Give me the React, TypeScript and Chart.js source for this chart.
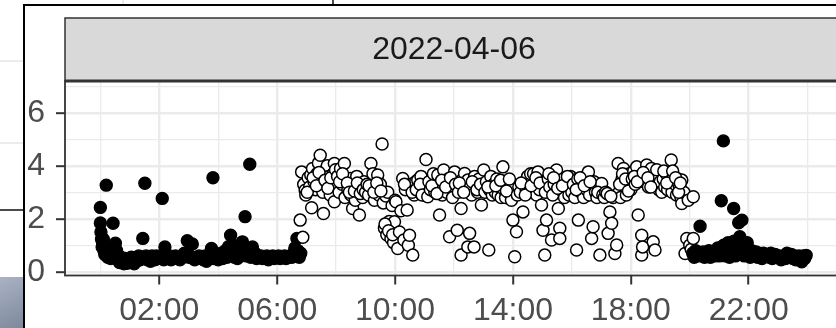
import React, { useEffect, useRef } from "react";
import { Chart, registerables } from "chart.js";

Chart.register(...registerables);

const facetLabel = "2022-04-06";
const xTickHours = [2, 6, 10, 14, 18, 22];
const xTickLabels = ["02:00", "06:00", "10:00", "14:00", "18:00", "22:00"];
const yTickValues = [0, 2, 4, 6];

// [hour of day, value]
const nightEarlyPoints: [number, number][] = [
  [0.0, 2.43], [0.0, 1.84], [0.02, 1.5], [0.04, 1.23], [0.06, 0.94], [0.08, 1.1], [0.1, 1.23], [0.12, 0.8],
  [0.15, 0.65], [0.2, 3.27], [0.2, 0.9], [0.25, 0.55], [0.3, 0.7], [0.35, 0.5], [0.43, 1.83], [0.45, 0.6],
  [0.51, 1.08], [0.55, 0.8], [0.6, 0.45], [0.65, 0.35], [0.7, 0.55], [0.75, 0.4], [0.8, 0.3], [0.85, 0.5],
  [0.9, 0.32], [0.95, 0.45], [1.0, 0.35], [1.05, 0.55], [1.1, 0.4], [1.15, 0.3], [1.2, 0.5], [1.25, 0.42],
  [1.3, 0.6], [1.35, 0.45], [1.4, 0.55], [1.44, 1.26], [1.5, 0.5], [1.51, 3.34], [1.55, 0.6], [1.6, 0.45],
  [1.65, 0.55], [1.7, 0.4], [1.75, 0.6], [1.8, 0.5], [1.85, 0.45], [1.9, 0.6], [1.95, 0.5], [2.0, 0.55],
  [2.1, 2.77], [2.1, 0.6], [2.15, 0.45], [2.19, 0.94], [2.25, 0.55], [2.3, 0.5], [2.35, 0.6], [2.4, 0.45],
  [2.5, 0.55], [2.55, 0.6], [2.6, 0.5], [2.7, 0.45], [2.75, 0.6], [2.8, 0.55], [2.85, 0.7], [2.95, 1.17],
  [3.0, 0.55], [3.05, 0.6], [3.12, 1.05], [3.15, 0.5], [3.2, 0.45], [3.3, 0.55], [3.35, 0.6], [3.4, 0.5],
  [3.5, 0.45], [3.55, 0.6], [3.6, 0.4], [3.7, 0.55], [3.77, 0.88], [3.82, 3.55], [3.85, 0.5], [3.9, 0.6],
  [4.0, 0.45], [4.05, 0.55], [4.1, 0.7], [4.15, 0.5], [4.2, 0.6], [4.25, 0.8], [4.3, 0.55], [4.35, 0.95],
  [4.42, 1.38], [4.45, 0.6], [4.5, 1.0], [4.55, 0.55], [4.6, 0.7], [4.65, 0.5], [4.7, 0.9], [4.75, 0.6],
  [4.82, 1.13], [4.85, 0.75], [4.91, 2.08], [4.95, 0.6], [5.0, 0.9], [5.07, 4.06], [5.1, 0.55], [5.16, 0.94],
  [5.2, 0.6], [5.25, 0.7], [5.3, 0.5], [5.4, 0.55], [5.45, 0.6], [5.5, 0.5], [5.6, 0.55], [5.65, 0.6],
  [5.7, 0.45], [5.8, 0.55], [5.85, 0.6], [5.9, 0.5], [6.0, 0.55], [6.05, 0.6], [6.1, 0.5], [6.2, 0.55],
  [6.25, 0.6], [6.3, 0.5], [6.4, 0.55], [6.45, 0.6], [6.5, 0.55], [6.55, 0.7], [6.6, 0.9], [6.65, 0.6],
  [6.67, 1.26], [6.7, 0.8], [6.75, 0.55], [6.8, 0.7],
];

const dayPoints: [number, number][] = [
  [6.78, 1.95], [6.87, 1.3], [6.83, 3.77], [6.9, 3.3], [6.95, 3.08], [6.97, 2.9],
  [7.05, 3.55], [7.1, 3.2], [7.14, 3.65], [7.17, 2.42], [7.2, 3.9], [7.25, 3.4], [7.3, 3.1], [7.35, 3.7],
  [7.4, 4.1], [7.46, 4.4], [7.5, 3.5], [7.55, 3.0], [7.57, 2.2], [7.6, 3.8], [7.65, 3.3], [7.7, 4.0],
  [7.75, 3.6], [7.8, 2.9], [7.85, 3.4], [7.9, 3.7], [7.94, 4.09], [7.94, 2.64], [8.0, 3.2],
  [7.02, 3.0], [7.22, 3.55], [7.33, 3.25], [7.42, 3.75], [7.62, 3.45], [7.72, 3.15], [7.82, 3.55], [7.98, 3.85],
  [8.05, 3.6], [8.1, 3.0], [8.15, 3.9], [8.2, 3.3], [8.28, 4.09], [8.3, 2.8], [8.35, 3.5], [8.4, 3.1],
  [8.48, 3.52], [8.5, 2.9], [8.56, 2.39], [8.6, 3.3], [8.65, 2.7], [8.7, 3.6], [8.75, 3.0], [8.79, 2.14],
  [8.85, 3.2], [8.9, 2.8], [8.95, 3.4],
  [8.12, 3.4], [8.22, 3.7], [8.38, 3.35], [8.45, 3.0], [8.62, 3.05], [8.72, 3.35], [8.82, 2.95], [8.92, 3.1],
  [9.0, 3.0], [9.05, 3.3], [9.1, 2.9], [9.18, 4.09], [9.2, 3.2], [9.25, 3.7], [9.3, 2.7], [9.35, 3.1],
  [9.41, 3.65], [9.45, 2.9], [9.5, 3.3], [9.56, 4.82], [9.6, 2.6], [9.64, 1.64], [9.69, 2.86], [9.72, 1.4],
  [9.75, 3.0], [9.8, 1.9], [9.86, 1.26], [9.9, 2.5], [9.95, 1.1], [9.98, 1.89], [10.0, 2.7],
  [9.12, 3.25], [9.28, 3.0], [9.38, 3.35], [9.52, 3.05], [9.66, 1.8], [9.78, 1.55], [9.92, 1.4],
  [10.03, 2.64], [10.09, 0.88], [10.15, 1.5], [10.2, 2.3], [10.26, 3.52], [10.3, 1.2], [10.35, 3.1],
  [10.41, 2.33], [10.45, 1.0], [10.49, 1.38], [10.55, 3.3], [10.6, 0.63], [10.65, 2.9], [10.7, 3.4],
  [10.77, 3.46], [10.82, 3.0], [10.88, 3.6], [10.95, 3.2], [11.0, 2.9],
  [10.32, 3.3], [10.58, 3.0], [10.72, 3.1], [10.85, 3.3], [10.92, 2.9],
  [11.05, 4.24], [11.11, 2.83], [11.15, 3.4], [11.2, 3.1], [11.3, 3.7], [11.35, 3.0], [11.4, 3.3],
  [11.45, 3.65], [11.51, 2.14], [11.55, 3.2], [11.6, 2.9], [11.65, 3.84], [11.7, 3.4], [11.75, 3.0],
  [11.8, 3.5], [11.85, 1.32], [11.9, 3.2], [11.95, 2.8], [12.02, 3.77],
  [11.25, 3.25], [11.42, 2.95], [11.58, 3.45], [11.72, 3.2], [11.88, 3.55],
  [12.05, 3.3], [12.11, 1.57], [12.15, 3.0], [12.24, 0.63], [12.24, 2.39], [12.3, 3.5], [12.36, 3.71],
  [12.4, 3.1], [12.47, 0.94], [12.47, 3.46], [12.53, 1.45], [12.55, 3.2], [12.6, 2.9], [12.68, 0.94],
  [12.7, 3.6], [12.75, 3.3], [12.8, 3.0], [12.85, 3.5], [12.93, 2.52], [12.95, 3.2], [13.01, 3.84],
  [12.18, 3.35], [12.33, 3.0], [12.62, 3.4], [12.78, 3.1], [12.9, 3.3],
  [13.05, 3.0], [13.1, 3.4], [13.18, 0.82], [13.2, 3.1], [13.25, 3.6], [13.3, 2.9], [13.35, 3.3],
  [13.4, 3.0], [13.45, 3.5], [13.5, 2.9], [13.55, 3.2], [13.6, 2.8], [13.66, 3.96], [13.7, 3.1],
  [13.75, 2.8], [13.8, 3.3], [13.85, 3.0], [13.92, 3.21], [13.95, 2.7], [14.0, 1.95],
  [13.15, 3.2], [13.42, 3.25], [13.58, 3.45], [13.78, 3.05], [13.88, 3.5],
  [14.06, 0.57], [14.12, 1.51], [14.15, 2.9], [14.2, 3.2], [14.25, 3.0], [14.34, 2.26], [14.4, 3.4],
  [14.45, 3.1], [14.5, 3.6], [14.55, 3.3], [14.6, 3.7], [14.65, 3.0], [14.7, 3.7], [14.75, 3.3],
  [14.8, 2.9], [14.85, 3.77], [14.9, 3.1], [14.97, 2.52], [15.02, 1.57], [15.05, 3.4],
  [14.28, 3.35], [14.42, 2.9], [14.62, 3.25], [14.78, 3.55], [14.92, 3.35],
  [15.08, 0.63], [15.1, 3.0], [15.14, 1.95], [15.2, 3.5], [15.25, 3.2], [15.31, 1.2], [15.35, 2.9],
  [15.4, 3.3], [15.48, 3.84], [15.54, 2.39], [15.59, 1.64], [15.59, 1.26], [15.62, 3.1], [15.7, 3.5],
  [15.75, 2.8], [15.8, 3.2], [15.88, 3.33], [15.9, 2.9], [15.95, 3.6], [16.0, 3.0],
  [15.22, 3.7], [15.38, 3.55], [15.52, 3.15], [15.68, 3.25], [15.85, 3.6],
  [16.05, 3.3], [16.1, 2.8], [16.16, 0.82], [16.2, 3.5], [16.22, 1.95], [16.3, 3.0], [16.35, 3.3],
  [16.4, 2.8], [16.45, 3.6], [16.5, 3.1], [16.56, 3.77], [16.6, 2.9], [16.67, 1.26], [16.72, 1.7],
  [16.75, 3.4], [16.8, 3.0], [16.85, 2.8], [16.9, 3.2], [16.95, 0.63], [17.01, 3.33],
  [16.15, 3.1], [16.28, 3.55], [16.42, 3.25], [16.62, 3.4], [16.88, 3.0],
  [17.05, 2.9], [17.1, 2.8], [17.15, 3.0], [17.23, 1.45], [17.29, 2.26], [17.35, 1.83], [17.4, 2.8],
  [17.46, 0.69], [17.52, 1.01], [17.57, 4.09], [17.6, 3.0], [17.65, 2.8], [17.7, 3.5], [17.75, 3.9],
  [17.8, 3.2], [17.85, 2.9], [17.9, 3.33], [17.95, 3.7], [18.0, 3.1],
  [17.2, 2.95], [17.32, 2.85], [17.62, 3.3], [17.72, 3.7], [17.82, 3.5], [17.92, 3.05],
  [18.05, 3.5], [18.1, 3.8], [18.15, 3.3], [18.2, 3.96], [18.25, 2.14], [18.3, 3.6], [18.37, 1.38],
  [18.37, 0.63], [18.4, 0.94], [18.45, 3.4], [18.5, 3.7], [18.54, 4.03], [18.6, 3.2], [18.65, 3.5],
  [18.7, 3.9], [18.76, 1.13], [18.82, 0.82], [18.85, 3.3], [18.9, 3.6], [18.95, 3.1], [19.0, 3.4],
  [18.12, 3.6], [18.22, 3.4], [18.42, 3.75], [18.58, 3.55], [18.68, 3.2], [18.88, 3.85],
  [19.05, 3.0], [19.1, 3.5], [19.15, 3.2], [19.2, 3.7], [19.25, 3.1], [19.3, 3.4], [19.37, 4.22],
  [19.4, 3.0], [19.45, 3.6], [19.5, 3.3], [19.55, 2.9], [19.6, 3.5], [19.65, 3.2], [19.7, 2.8],
  [19.73, 3.46], [19.73, 2.58], [19.8, 3.0], [19.84, 0.69], [19.9, 1.26], [19.95, 2.7], [20.0, 1.0],
  [19.12, 3.8], [19.22, 3.35], [19.42, 3.8], [19.52, 3.55], [19.62, 3.0], [19.68, 3.35],
  [20.05, 0.85], [20.12, 2.83], [20.12, 1.26],
];

const nightLatePoints: [number, number][] = [
  [20.1, 0.7], [20.15, 0.55], [20.2, 0.8], [20.25, 0.6], [20.3, 0.65], [20.35, 1.72], [20.4, 0.6],
  [20.45, 0.75], [20.5, 0.55], [20.55, 0.7], [20.6, 0.6], [20.65, 0.8], [20.7, 0.55], [20.75, 0.65],
  [20.8, 0.75], [20.85, 0.6], [20.9, 0.7], [20.95, 0.9], [21.0, 0.6], [21.05, 0.75], [21.07, 2.68],
  [21.1, 0.65], [21.14, 4.94], [21.15, 1.0], [21.2, 0.6], [21.25, 0.8], [21.3, 1.1], [21.32, 0.7],
  [21.35, 0.55], [21.4, 0.9], [21.45, 0.7], [21.49, 2.39], [21.5, 1.15], [21.55, 0.6], [21.6, 0.85],
  [21.66, 1.85], [21.7, 1.32], [21.71, 0.7], [21.77, 1.95], [21.8, 1.0], [21.85, 0.6], [21.9, 0.8],
  [21.95, 1.1], [22.0, 0.7], [22.05, 0.55], [22.1, 0.8], [22.15, 0.65], [22.2, 0.6], [22.25, 0.75],
  [22.3, 0.55], [22.35, 0.7], [22.4, 0.6], [22.45, 0.5], [22.5, 0.7], [22.55, 0.6], [22.6, 0.65],
  [22.7, 0.55], [22.75, 0.7], [22.8, 0.5], [22.85, 0.6], [22.9, 0.65], [23.0, 0.55], [23.05, 0.6],
  [23.1, 0.45], [23.2, 0.6], [23.25, 0.5], [23.3, 0.7], [23.4, 0.55], [23.45, 0.65], [23.5, 0.5],
  [23.55, 0.6], [23.6, 0.45], [23.7, 0.6], [23.75, 0.55], [23.8, 0.38], [23.85, 0.6], [23.9, 0.5],
  [23.95, 0.62],
];

const FONT = "'Liberation Sans', Arial, sans-serif";
const CANVAS_W = 860;
const CANVAS_H = 328;

const decorPlugin = {
  id: "decor",
  beforeDraw(chart: any) {
    const { ctx, chartArea: ca } = chart;
    ctx.save();
    ctx.fillStyle = "#ffffff";
    ctx.fillRect(0, 0, chart.width, chart.height);
    // background window bits left of the frame
    ctx.strokeStyle = "#e6e6e6";
    ctx.lineWidth = 1.5;
    ctx.beginPath();
    ctx.moveTo(0, 61); ctx.lineTo(24, 61);
    ctx.moveTo(0, 143); ctx.lineTo(24, 143);
    ctx.moveTo(123, 0); ctx.lineTo(123, 5);
    ctx.stroke();
    ctx.strokeStyle = "#111111";
    ctx.lineWidth = 1.5;
    ctx.beginPath();
    ctx.moveTo(0, 210); ctx.lineTo(24, 210);
    ctx.moveTo(333, 0); ctx.lineTo(333, 5);
    ctx.stroke();
    const g = ctx.createLinearGradient(0, 277, 24, 328);
    g.addColorStop(0, "#a9b3c4");
    g.addColorStop(1, "#7d889c");
    ctx.fillStyle = g;
    ctx.fillRect(0, 277, 23, 51);
    // frame
    ctx.strokeStyle = "#000000";
    ctx.lineWidth = 2;
    ctx.beginPath();
    ctx.moveTo(24, CANVAS_H); ctx.lineTo(24, 5); ctx.lineTo(chart.width, 5);
    ctx.stroke();
    // strip
    const stripTop = 18;
    ctx.fillStyle = "#d9d9d9";
    ctx.fillRect(ca.left, stripTop, ca.right - ca.left, ca.top - stripTop);
    ctx.strokeStyle = "#333333";
    ctx.lineWidth = 1.5;
    ctx.strokeRect(ca.left, stripTop, ca.right - ca.left, ca.top - stripTop);
    ctx.fillStyle = "#1a1a1a";
    ctx.font = `32px ${FONT}`;
    ctx.textAlign = "center";
    ctx.textBaseline = "middle";
    ctx.fillText(facetLabel, (ca.left + ca.right) / 2, (stripTop + ca.top) / 2 + 1);
    ctx.restore();
  },
  afterDatasetsDraw(chart: any) {
    const { ctx, chartArea: ca } = chart;
    ctx.save();
    ctx.strokeStyle = "#333333";
    ctx.lineWidth = 1.8;
    ctx.strokeRect(ca.left, ca.top, ca.right - ca.left, ca.bottom - ca.top);
    ctx.lineWidth = 3;
    ctx.beginPath();
    ctx.moveTo(ca.left, ca.top); ctx.lineTo(ca.right, ca.top);
    ctx.stroke();
    ctx.restore();
  },
};

export default function App() {
  const ref = useRef<HTMLCanvasElement | null>(null);

  useEffect(() => {
    if (!ref.current) return;
    const toXY = (arr: [number, number][]) => arr.map(([x, y]) => ({ x, y }));
    const isMajorX = (v: number) => xTickHours.includes(v);
    const isMajorY = (v: number) => yTickValues.includes(v);

    const chart = new Chart(ref.current, {
      type: "scatter",
      data: {
        datasets: [
          {
            label: "night-late",
            data: toXY(nightLatePoints),
            backgroundColor: "#000000",
            borderColor: "#000000",
            pointRadius: 6,
            borderWidth: 1.4,
          },
          {
            label: "day",
            data: toXY(dayPoints),
            backgroundColor: "#ffffff",
            borderColor: "#000000",
            pointRadius: 6,
            borderWidth: 1.5,
          },
          {
            label: "night-early",
            data: toXY(nightEarlyPoints),
            backgroundColor: "#000000",
            borderColor: "#000000",
            pointRadius: 6,
            borderWidth: 1.4,
          },
        ],
      },
      options: {
        responsive: false,
        animation: false,
        events: [],
        layout: { padding: { left: 24, top: 81, right: CANVAS_W - 843, bottom: 0 } },
        plugins: { legend: { display: false }, tooltip: { enabled: false } },
        scales: {
          x: {
            type: "linear",
            min: -1.2,
            max: 25.2,
            afterBuildTicks: (scale: any) => {
              const t = [];
              for (let h = 0; h <= 24; h += 2) t.push({ value: h });
              scale.ticks = t;
            },
            afterFit: (scale: any) => {
              scale.height = CANVAS_H - 275.5;
            },
            border: { display: false },
            grid: {
              color: "#ebebeb",
              lineWidth: (c: any) => (isMajorX(c.tick?.value) ? 2.4 : 1.3),
              drawTicks: true,
              tickLength: 9,
              tickWidth: 2,
              tickColor: (c: any) => (isMajorX(c.tick?.value) ? "#333333" : "rgba(0,0,0,0)"),
            },
            ticks: {
              autoSkip: false,
              maxRotation: 0,
              padding: 7,
              color: "#4d4d4d",
              font: { family: FONT, size: 32 },
              callback: (v: any) => {
                const i = xTickHours.indexOf(Number(v));
                return i >= 0 ? xTickLabels[i] : "";
              },
            },
          },
          y: {
            type: "linear",
            min: -0.14,
            max: 7.2,
            afterBuildTicks: (scale: any) => {
              const t = [];
              for (let v = 0; v <= 7; v += 1) t.push({ value: v });
              scale.ticks = t;
            },
            afterFit: (scale: any) => {
              scale.width = 41;
            },
            border: { display: false },
            grid: {
              color: "#ebebeb",
              lineWidth: (c: any) => (isMajorY(c.tick?.value) ? 2.4 : 1.3),
              drawTicks: true,
              tickLength: 9,
              tickWidth: 2,
              tickColor: (c: any) => (isMajorY(c.tick?.value) ? "#333333" : "rgba(0,0,0,0)"),
            },
            ticks: {
              autoSkip: false,
              padding: 11,
              color: "#4d4d4d",
              font: { family: FONT, size: 32 },
              callback: (v: any) => (isMajorY(Number(v)) ? String(v) : ""),
            },
          },
        },
      },
      plugins: [decorPlugin],
    });
    return () => chart.destroy();
  }, []);

  return (
    <div
      style={{
        position: "fixed",
        left: 0,
        top: 0,
        width: 836,
        height: 328,
        overflow: "hidden",
        background: "#ffffff",
      }}
    >
      <canvas ref={ref} width={CANVAS_W} height={CANVAS_H} style={{ display: "block", width: CANVAS_W, height: CANVAS_H }} />
    </div>
  );
}
